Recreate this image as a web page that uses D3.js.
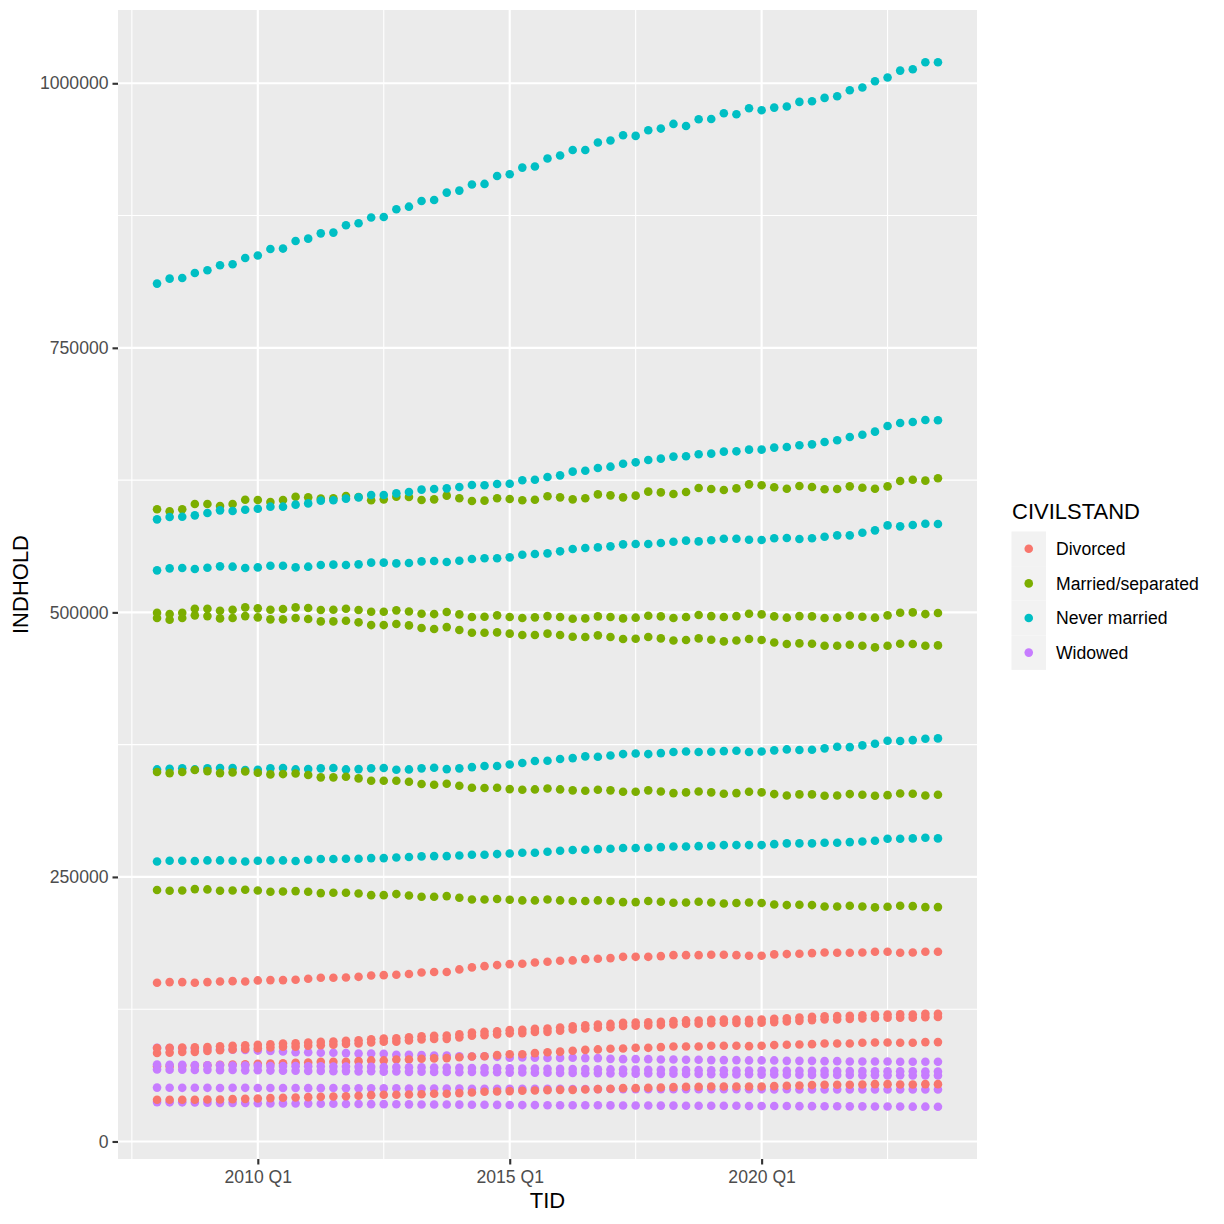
<!DOCTYPE html>
<html>
<head>
<meta charset="utf-8">
<script src="https://cdn.jsdelivr.net/npm/d3@7"></script>
<style>
  body { margin: 0; background: #fff; }
  svg { display: block; font-family: "Liberation Sans", Arial, sans-serif; }
</style>
</head>
<body>
<div id="chart"></div>
<script>
// time axis, one entry per quarter
const quarters = [
  '2008Q1','2008Q2','2008Q3','2008Q4','2009Q1','2009Q2','2009Q3','2009Q4',
  '2010Q1','2010Q2','2010Q3','2010Q4','2011Q1','2011Q2','2011Q3','2011Q4',
  '2012Q1','2012Q2','2012Q3','2012Q4','2013Q1','2013Q2','2013Q3','2013Q4',
  '2014Q1','2014Q2','2014Q3','2014Q4','2015Q1','2015Q2','2015Q3','2015Q4',
  '2016Q1','2016Q2','2016Q3','2016Q4','2017Q1','2017Q2','2017Q3','2017Q4',
  '2018Q1','2018Q2','2018Q3','2018Q4','2019Q1','2019Q2','2019Q3','2019Q4',
  '2020Q1','2020Q2','2020Q3','2020Q4','2021Q1','2021Q2','2021Q3','2021Q4',
  '2022Q1','2022Q2','2022Q3','2022Q4','2023Q1','2023Q2','2023Q3'
];
const civilstand = ['Divorced', 'Married/separated', 'Never married', 'Widowed'];
const colours = ['#F8766D', '#7CAE00', '#00BFC4', '#C77CFF'];
const xTicks = ['2010Q1', '2015Q1', '2020Q1'];
const yTicks = [0, 250000, 500000, 750000, 1000000];

// INDHOLD in thousands
const neverHovedstaden = [810.7, 815.4, 816.0, 820.7, 823.3, 828.0, 829.0, 834.9, 837.2, 843.4,
  843.8, 851.0, 853.2, 858.2, 858.9, 865.8, 867.7, 873.1, 873.7, 880.9,
  883.4, 888.8, 889.7, 896.7, 898.6, 904.3, 904.9, 912.4, 914.0, 920.3,
  921.3, 928.9, 931.7, 937.0, 937.0, 944.0, 945.9, 950.9, 950.3, 955.6,
  957.2, 961.6, 959.7, 966.0, 966.3, 971.7, 970.8, 976.4, 974.5, 977.0,
  978.0, 982.4, 983.0, 986.2, 987.8, 993.4, 996.0, 1001.9, 1005.4, 1012.0,
  1013.3, 1019.9, 1019.9];
const neverMidtjylland = [587.9, 590.1, 590.4, 591.7, 593.9, 596.4, 595.8, 597.0, 598.0, 599.9,
  599.9, 601.8, 603.0, 605.6, 605.9, 607.5, 608.7, 610.9, 610.9, 612.5,
  613.7, 616.0, 616.6, 617.2, 618.5, 620.4, 620.1, 621.3, 621.6, 624.8,
  625.4, 627.9, 629.5, 633.0, 633.9, 636.4, 637.7, 640.5, 641.8, 644.0,
  645.3, 647.2, 647.5, 649.4, 650.0, 651.9, 652.2, 653.8, 653.8, 655.7,
  656.3, 657.9, 658.8, 661.0, 662.6, 665.7, 667.9, 670.8, 676.1, 679.0,
  679.9, 681.8, 681.5];
const neverSyddanmark = [539.7, 541.6, 541.9, 541.0, 542.2, 543.5, 543.2, 541.9, 542.5, 544.1,
  544.1, 542.5, 543.2, 544.8, 545.1, 544.8, 545.4, 547.0, 547.0, 546.3,
  546.6, 548.2, 548.5, 547.6, 548.8, 550.4, 551.1, 551.1, 552.0, 554.5,
  555.2, 555.8, 557.7, 559.9, 560.8, 561.4, 562.4, 564.3, 564.6, 564.6,
  565.5, 566.8, 567.8, 567.1, 568.1, 569.6, 569.6, 568.7, 568.4, 570.0,
  570.3, 569.3, 570.0, 571.5, 572.8, 572.8, 575.3, 577.5, 582.2, 581.3,
  582.6, 583.8, 583.5];
const neverSjaelland = [351.6, 352.2, 352.6, 351.6, 352.6, 352.9, 352.9, 351.0, 351.3, 352.6,
  352.9, 351.6, 351.9, 352.6, 352.9, 351.6, 351.9, 352.6, 352.9, 351.3,
  351.6, 352.6, 353.2, 351.9, 352.6, 353.8, 354.8, 354.8, 356.3, 357.6,
  359.5, 359.8, 361.4, 362.3, 363.9, 363.6, 364.8, 366.1, 366.7, 366.1,
  367.0, 368.0, 368.6, 368.0, 368.3, 368.9, 369.3, 368.0, 368.6, 369.6,
  370.5, 369.9, 370.2, 371.5, 373.0, 372.7, 374.3, 375.9, 378.7, 378.4,
  379.3, 380.6, 380.9];
const neverNordjylland = [264.6, 265.3, 265.3, 265.0, 265.6, 265.6, 265.3, 264.6, 265.3, 265.6,
  265.6, 265.0, 266.2, 266.9, 266.9, 267.2, 267.2, 267.8, 267.8, 268.4,
  268.8, 269.4, 269.7, 269.7, 270.3, 271.0, 271.0, 271.6, 272.2, 272.8,
  272.8, 273.8, 274.7, 275.4, 275.7, 276.3, 276.6, 277.3, 277.3, 277.6,
  278.2, 278.8, 278.8, 279.1, 279.5, 280.1, 280.1, 280.1, 280.1, 281.0,
  281.7, 281.7, 281.7, 282.3, 282.3, 282.9, 283.5, 284.2, 286.1, 286.1,
  286.4, 287.0, 286.4];

const marriedHovedstaden = [597.4, 595.5, 597.4, 602.4, 602.4, 600.5, 602.4, 606.5, 606.2, 604.3,
  606.2, 609.3, 608.7, 607.5, 607.8, 610.0, 609.0, 605.9, 606.8, 609.3,
  609.0, 606.2, 606.8, 610.3, 607.8, 605.2, 605.6, 607.8, 607.1, 605.9,
  606.5, 609.7, 608.7, 606.8, 607.8, 611.5, 610.6, 608.7, 610.3, 614.1,
  613.4, 611.9, 613.8, 617.5, 616.6, 615.6, 617.2, 621.0, 620.1, 618.2,
  616.9, 619.4, 618.5, 616.3, 616.6, 619.1, 617.8, 616.9, 619.1, 624.1,
  625.4, 624.5, 626.7];
const marriedMidtjylland = [499.7, 498.4, 499.7, 503.5, 503.5, 501.6, 502.5, 504.7, 503.8, 502.5,
  503.2, 504.7, 504.1, 502.2, 502.5, 503.5, 502.2, 500.6, 500.6, 501.9,
  500.9, 498.7, 498.4, 500.3, 498.1, 495.6, 495.9, 497.2, 495.6, 494.7,
  495.3, 496.5, 495.6, 494.0, 494.3, 496.2, 495.6, 494.3, 495.0, 496.8,
  496.2, 494.7, 495.6, 497.5, 496.5, 495.6, 496.5, 498.7, 498.1, 496.2,
  495.0, 496.5, 496.2, 494.7, 495.0, 496.8, 495.9, 495.0, 497.2, 499.7,
  500.0, 498.4, 499.4];
const marriedSyddanmark = [494.7, 493.1, 494.7, 497.2, 496.5, 494.3, 494.7, 496.5, 495.3, 493.4,
  493.4, 494.7, 493.7, 491.5, 491.5, 492.1, 490.6, 488.0, 488.0, 489.0,
  487.7, 485.2, 484.3, 486.1, 483.3, 480.8, 480.8, 481.1, 479.9, 478.6,
  478.6, 479.9, 478.6, 477.0, 476.7, 478.3, 476.7, 474.8, 475.1, 476.7,
  475.4, 473.5, 473.9, 475.4, 474.2, 472.6, 473.5, 474.8, 473.9, 471.6,
  470.1, 470.7, 470.4, 468.5, 468.5, 469.4, 468.5, 466.9, 468.5, 470.4,
  470.1, 468.5, 468.8];
const marriedSjaelland = [349.1, 348.1, 349.1, 351.0, 350.0, 348.1, 348.8, 349.7, 348.5, 346.9,
  347.2, 347.8, 346.3, 344.1, 344.1, 344.7, 343.1, 340.9, 340.9, 340.9,
  340.0, 337.8, 337.1, 338.1, 336.2, 334.3, 334.0, 334.3, 333.0, 332.4,
  332.7, 333.6, 332.7, 331.8, 331.4, 332.4, 331.8, 330.5, 330.5, 331.8,
  330.8, 329.2, 329.9, 330.8, 329.9, 328.6, 329.2, 330.5, 329.9, 328.3,
  327.0, 328.0, 328.0, 326.7, 327.0, 328.3, 327.7, 326.7, 327.3, 328.9,
  328.6, 327.0, 327.7];
const marriedNordjylland = [237.6, 236.9, 237.2, 238.5, 238.2, 236.9, 237.2, 237.9, 237.2, 236.0,
  236.3, 236.6, 236.0, 234.7, 235.0, 235.0, 234.4, 232.8, 232.8, 233.8,
  232.5, 231.3, 231.3, 231.9, 230.3, 228.7, 228.7, 229.1, 228.4, 227.8,
  227.8, 228.7, 227.8, 227.2, 227.2, 227.8, 227.2, 226.2, 226.2, 227.2,
  226.5, 225.6, 225.9, 226.5, 225.9, 224.9, 225.3, 225.9, 225.3, 224.0,
  223.4, 223.7, 223.4, 222.1, 222.1, 222.7, 222.1, 221.2, 221.8, 222.7,
  222.4, 221.5, 221.5];

const divorcedHovedstaden = [150.0, 150.6, 150.6, 150.0, 150.6, 151.2, 151.5, 151.2, 152.2, 152.5,
  152.5, 152.8, 153.8, 154.7, 154.7, 155.0, 155.6, 156.9, 157.2, 157.5,
  158.2, 159.7, 160.1, 160.1, 162.6, 164.5, 165.7, 166.7, 167.6, 167.9,
  169.2, 169.8, 170.8, 171.1, 172.3, 172.7, 173.3, 174.5, 174.5, 174.5,
  175.2, 176.1, 176.1, 176.1, 176.4, 176.4, 176.1, 175.5, 175.5, 176.8,
  177.1, 177.4, 178.0, 178.6, 178.3, 178.3, 178.6, 179.3, 179.3, 178.3,
  178.6, 179.3, 179.3];
const divorcedMidtjylland = [88.4, 88.5, 88.8, 88.9, 89.3, 89.9, 90.4, 90.9, 91.4, 91.9,
  92.6, 92.7, 93.5, 94.1, 94.5, 95.1, 95.7, 96.6, 97.3, 97.4,
  98.5, 99.5, 99.8, 100.2, 101.4, 103.0, 103.6, 104.2, 105.2, 105.6,
  106.4, 106.7, 107.7, 108.9, 109.9, 110.6, 111.1, 112.1, 112.5, 112.7,
  113.0, 113.7, 114.4, 114.3, 114.9, 115.3, 115.2, 114.9, 115.3, 115.9,
  116.5, 117.2, 117.8, 118.4, 118.5, 118.7, 119.3, 119.8, 120.0, 120.1,
  120.0, 120.6, 120.7];
const divorcedSyddanmark = [83.6, 84.0, 84.6, 84.7, 85.5, 86.2, 86.9, 87.5, 88.2, 88.8,
  89.6, 89.5, 90.5, 91.0, 91.4, 92.1, 92.6, 93.6, 94.3, 94.2,
  95.5, 96.4, 96.8, 97.0, 98.4, 100.0, 100.5, 101.2, 102.2, 102.4,
  103.4, 103.6, 104.7, 105.9, 106.8, 107.5, 108.0, 109.1, 109.3, 109.7,
  110.0, 110.6, 111.2, 111.3, 111.8, 112.2, 112.1, 111.8, 112.2, 112.8,
  113.5, 114.0, 114.7, 115.4, 115.3, 115.7, 116.2, 116.7, 117.0, 116.9,
  117.0, 117.5, 117.6];
const divorcedSjaelland = [71.0, 71.2, 71.5, 71.7, 72.0, 72.4, 72.7, 73.0, 73.4, 73.7,
  74.0, 74.3, 74.7, 75.3, 75.3, 75.3, 75.9, 76.6, 76.6, 77.5,
  77.5, 78.2, 78.5, 78.8, 79.6, 80.3, 80.6, 81.6, 82.5, 82.5,
  83.5, 84.3, 84.9, 85.7, 86.6, 87.0, 87.6, 87.9, 88.5, 88.5,
  89.2, 89.8, 89.8, 89.8, 90.4, 90.4, 90.4, 90.1, 90.4, 91.1,
  91.4, 91.7, 92.0, 92.6, 92.6, 92.6, 93.3, 93.6, 93.6, 93.3,
  93.3, 93.9, 93.9];
const divorcedNordjylland = [39.4, 39.4, 39.4, 39.4, 39.7, 39.7, 40.0, 40.3, 40.6, 41.0,
  41.3, 41.6, 41.9, 42.2, 42.5, 42.8, 43.2, 43.8, 44.1, 44.1,
  44.4, 44.7, 45.1, 45.1, 45.7, 46.3, 47.0, 47.3, 47.6, 47.9,
  48.2, 48.5, 48.8, 48.8, 49.1, 49.5, 49.8, 50.4, 50.4, 50.7,
  51.0, 51.4, 51.7, 51.7, 52.0, 52.0, 52.0, 52.0, 52.0, 52.3,
  52.6, 52.9, 53.3, 53.6, 53.6, 53.6, 53.9, 54.2, 54.2, 53.9,
  53.9, 54.2, 54.2];

const widowedHovedstaden = [88.6, 88.3, 88.0, 87.7, 87.4, 87.1, 86.7, 86.4, 85.9, 85.5,
  85.0, 84.4, 84.4, 83.8, 83.8, 83.5, 83.2, 83.2, 82.9, 81.9,
  81.9, 81.6, 81.3, 81.3, 80.6, 80.3, 80.6, 80.0, 79.1, 79.4,
  79.1, 78.9, 79.0, 79.1, 78.8, 78.8, 78.1, 77.8, 77.8, 77.8,
  77.5, 77.5, 77.2, 77.2, 76.9, 76.9, 76.9, 76.6, 76.6, 76.6,
  76.2, 76.2, 76.2, 75.9, 75.9, 75.6, 75.6, 75.6, 75.6, 75.3,
  75.3, 75.3, 75.3];
const widowedMidtjylland = [72.7, 72.5, 72.4, 72.2, 72.1, 72.0, 71.8, 71.7, 71.6, 71.4,
  71.4, 71.2, 71.1, 71.0, 70.8, 70.8, 70.6, 70.5, 70.3, 70.3,
  70.1, 70.0, 69.9, 69.8, 69.6, 69.5, 69.4, 69.3, 69.1, 69.0,
  68.9, 68.7, 68.6, 68.4, 68.4, 68.2, 68.1, 68.0, 67.9, 67.8,
  67.7, 67.6, 67.5, 67.4, 67.3, 67.3, 67.1, 67.1, 67.0, 66.9,
  66.9, 66.8, 66.7, 66.7, 66.6, 66.5, 66.5, 66.4, 66.4, 66.3,
  66.3, 66.2, 66.2];
const widowedSyddanmark = [68.1, 67.8, 67.9, 67.6, 67.7, 67.4, 67.5, 67.2, 67.3, 67.0,
  66.8, 66.9, 66.6, 66.7, 66.4, 66.5, 66.2, 66.3, 66.0, 66.1,
  65.8, 65.9, 65.6, 65.7, 65.5, 65.6, 65.3, 65.4, 65.1, 65.2,
  64.9, 65.0, 64.7, 64.8, 64.5, 64.6, 64.3, 64.4, 64.1, 64.2,
  63.9, 64.0, 63.7, 63.8, 63.5, 63.6, 63.4, 63.5, 63.2, 63.3,
  63.0, 63.1, 62.9, 63.0, 62.8, 62.8, 62.6, 62.7, 62.5, 62.6,
  62.4, 62.5, 62.4];
const widowedSjaelland = [50.9, 50.8, 50.7, 50.8, 50.7, 50.6, 50.7, 50.7, 50.6, 50.5,
  50.6, 50.5, 50.4, 50.4, 50.5, 50.3, 50.3, 50.2, 50.2, 50.3,
  50.1, 50.1, 50.0, 50.1, 50.0, 49.9, 49.9, 49.9, 49.8, 49.8,
  49.8, 49.7, 49.7, 49.6, 49.6, 49.5, 49.6, 49.5, 49.5, 49.4,
  49.5, 49.4, 49.4, 49.4, 49.3, 49.4, 49.3, 49.3, 49.3, 49.2,
  49.3, 49.2, 49.2, 49.2, 49.1, 49.2, 49.1, 49.1, 49.1, 49.2,
  49.1, 49.2, 49.2];
const widowedNordjylland = [37.2, 37.0, 37.0, 36.8, 36.7, 36.5, 36.5, 36.3, 36.2, 36.0,
  36.0, 35.9, 35.8, 35.6, 35.6, 35.5, 35.4, 35.3, 35.3, 35.2,
  35.1, 35.0, 35.0, 34.9, 34.8, 34.7, 34.7, 34.6, 34.5, 34.4,
  34.4, 34.3, 34.3, 34.3, 34.2, 34.2, 34.1, 34.0, 34.0, 34.0,
  33.9, 33.9, 33.8, 33.8, 33.8, 33.7, 33.7, 33.6, 33.6, 33.5,
  33.5, 33.4, 33.4, 33.3, 33.3, 33.2, 33.2, 33.1, 33.0, 33.0,
  32.9, 32.9, 32.8];

// drawing order follows the source table: region by region,
// and within a region never married, married, widowed, divorced
const series = [
  ['Never married', neverHovedstaden], ['Married/separated', marriedHovedstaden],
  ['Widowed', widowedHovedstaden], ['Divorced', divorcedHovedstaden],
  ['Never married', neverSjaelland], ['Married/separated', marriedSjaelland],
  ['Widowed', widowedSjaelland], ['Divorced', divorcedSjaelland],
  ['Never married', neverSyddanmark], ['Married/separated', marriedSyddanmark],
  ['Widowed', widowedSyddanmark], ['Divorced', divorcedSyddanmark],
  ['Never married', neverMidtjylland], ['Married/separated', marriedMidtjylland],
  ['Widowed', widowedMidtjylland], ['Divorced', divorcedMidtjylland],
  ['Never married', neverNordjylland], ['Married/separated', marriedNordjylland],
  ['Widowed', widowedNordjylland], ['Divorced', divorcedNordjylland]
];

function quarterNum(q) {
    return +q.slice(0, 4) + (+q.slice(5) - 1) / 4;
}

const rows = series.flatMap(([civil, values]) =>
    values.map((v, i) => ({tid: quarters[i], civil: civil, indhold: v * 1000})));

const W = 1224, H = 1224;
const panel = {left: 118, right: 977, top: 10, bottom: 1159};

const svg = d3.select('#chart').append('svg')
    .attr('width', W)
    .attr('height', H);

svg.append('rect').attr('width', W).attr('height', H).attr('fill', '#fff');

// ggplot style 5% expansion on both axes
const xExt = d3.extent(quarters, quarterNum);
const xPad = (xExt[1] - xExt[0]) * 0.05;
const x = d3.scaleLinear()
    .domain([xExt[0] - xPad, xExt[1] + xPad])
    .range([panel.left, panel.right]);

const yExt = d3.extent(rows, d => d.indhold);
const yPad = (yExt[1] - yExt[0]) * 0.05;
const y = d3.scaleLinear()
    .domain([yExt[0] - yPad, yExt[1] + yPad])
    .range([panel.bottom, panel.top]);

const colour = d3.scaleOrdinal().domain(civilstand).range(colours);

svg.append('rect')
    .attr('x', panel.left)
    .attr('y', panel.top)
    .attr('width', panel.right - panel.left)
    .attr('height', panel.bottom - panel.top)
    .attr('fill', '#EBEBEB');

const grid = svg.append('g');

// minor grid lines halfway between the major breaks
const xMajor = xTicks.map(quarterNum);
const xMinor = [xMajor[0] - 2.5].concat(xMajor.map(v => v + 2.5));
const yMinor = yTicks.map(v => v + 125000).filter(v => v < y.domain()[1]);

grid.selectAll('.xminor').data(xMinor).enter().append('line')
    .attr('x1', d => x(d)).attr('x2', d => x(d))
    .attr('y1', panel.top).attr('y2', panel.bottom)
    .attr('stroke', '#fff').attr('stroke-width', 1.07);
grid.selectAll('.yminor').data(yMinor).enter().append('line')
    .attr('y1', d => y(d)).attr('y2', d => y(d))
    .attr('x1', panel.left).attr('x2', panel.right)
    .attr('stroke', '#fff').attr('stroke-width', 1.07);
grid.selectAll('.xmajor').data(xMajor).enter().append('line')
    .attr('x1', d => x(d)).attr('x2', d => x(d))
    .attr('y1', panel.top).attr('y2', panel.bottom)
    .attr('stroke', '#fff').attr('stroke-width', 2.13);
grid.selectAll('.ymajor').data(yTicks).enter().append('line')
    .attr('y1', d => y(d)).attr('y2', d => y(d))
    .attr('x1', panel.left).attr('x2', panel.right)
    .attr('stroke', '#fff').attr('stroke-width', 2.13);

svg.append('g').selectAll('circle')
    .data(rows)
  .enter().append('circle')
    .attr('cx', d => x(quarterNum(d.tid)))
    .attr('cy', d => y(d.indhold))
    .attr('r', 4.3)
    .attr('fill', d => colour(d.civil));

// axes
const xAxis = svg.append('g')
    .attr('transform', `translate(0,${panel.bottom})`)
    .call(d3.axisBottom(x).tickValues(xMajor).tickSize(5.5).tickPadding(6)
        .tickFormat((d, i) => xTicks[i].replace('Q', ' Q')));
const yAxis = svg.append('g')
    .attr('transform', `translate(${panel.left},0)`)
    .call(d3.axisLeft(y).tickValues(yTicks).tickSize(5.5).tickPadding(4)
        .tickFormat(d3.format('d')));

[xAxis, yAxis].forEach(a => {
    a.select('.domain').remove();
    a.selectAll('.tick line').attr('stroke', '#333333').attr('stroke-width', 2.13);
    a.selectAll('.tick text')
        .attr('fill', '#4D4D4D')
        .style('font-size', '17.6px')
        .style('font-family', '"Liberation Sans", Arial, sans-serif');
});

svg.append('text')
    .attr('x', (panel.left + panel.right) / 2)
    .attr('y', 1208)
    .attr('text-anchor', 'middle')
    .style('font-size', '22px')
    .text('TID');

svg.append('text')
    .attr('transform', `translate(28,${(panel.top + panel.bottom) / 2}) rotate(-90)`)
    .attr('text-anchor', 'middle')
    .style('font-size', '22px')
    .text('INDHOLD');

// legend
const legend = svg.append('g').attr('transform', 'translate(1011.5,531.5)');
legend.append('text')
    .attr('x', 0.5)
    .attr('y', -12.5)
    .style('font-size', '22px')
    .text('CIVILSTAND');

const key = legend.selectAll('.key').data(civilstand).enter().append('g')
    .attr('transform', (d, i) => `translate(0,${i * 34.6})`);
key.append('rect')
    .attr('width', 34.5).attr('height', 34.6)
    .attr('fill', '#F2F2F2');
key.append('circle')
    .attr('cx', 17.25).attr('cy', 17.3).attr('r', 4.3)
    .attr('fill', d => colour(d));
key.append('text')
    .attr('x', 44.5).attr('y', 17.3).attr('dy', '0.35em')
    .style('font-size', '17.6px')
    .text(d => d);
</script>
</body>
</html>
